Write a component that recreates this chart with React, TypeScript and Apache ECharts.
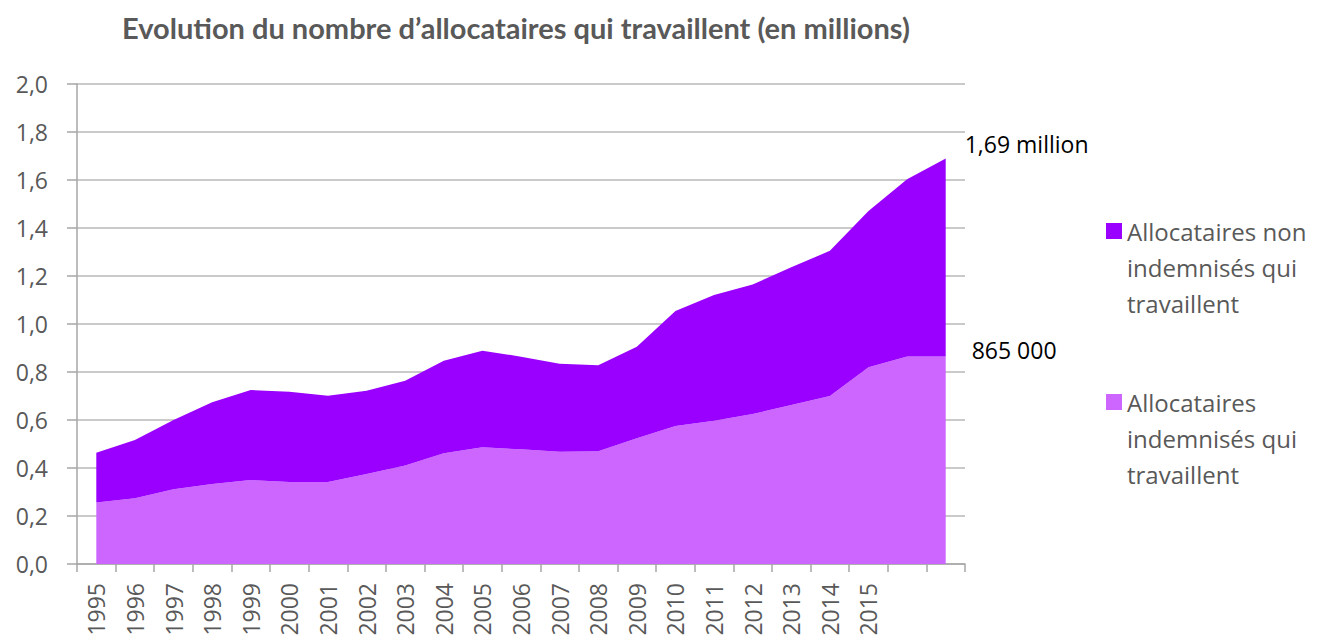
import React, { useEffect, useRef } from "react";
import * as echarts from "echarts";

const years = [
  "1995", "1996", "1997", "1998", "1999", "2000", "2001", "2002", "2003", "2004",
  "2005", "2006", "2007", "2008", "2009", "2010", "2011", "2012", "2013", "2014",
  "2015", "2016", "2017",
];
const xTickLabels = [
  "1995", "1996", "1997", "1998", "1999", "2000", "2001", "2002", "2003", "2004",
  "2005", "2006", "2007", "2008", "2009", "2010", "2011", "2012", "2013", "2014",
  "2015", "", "",
];
const indemnises = [
  0.256, 0.274, 0.311, 0.333, 0.35, 0.342, 0.342, 0.375, 0.41, 0.461,
  0.486, 0.478, 0.468, 0.47, 0.524, 0.575, 0.597, 0.625, 0.662, 0.7,
  0.82, 0.865, 0.865,
];
const nonIndemnises = [
  0.208, 0.243, 0.289, 0.341, 0.375, 0.376, 0.359, 0.347, 0.354, 0.386,
  0.403, 0.386, 0.366, 0.358, 0.381, 0.479, 0.524, 0.54, 0.574, 0.605,
  0.651, 0.738, 0.825,
];
const yTicks = [0, 0.2, 0.4, 0.6, 0.8, 1.0, 1.2, 1.4, 1.6, 1.8, 2.0];

const titleText = "Evolution du nombre d\u2019allocataires qui travaillent (en millions)";
const nameNon = "Allocataires non indemnisés qui travaillent";
const nameInd = "Allocataires indemnisés qui travaillent";
const legendLines: Record<string, string[]> = {
  [nameNon]: ["Allocataires non", "indemnisés qui", "travaillent"],
  [nameInd]: ["Allocataires", "indemnisés qui", "travaillent"],
};
const totalLabel = "1,69 million";
const indemLabel = "865 000";

const colorNon = "#9900FF";
const colorInd = "#CC66FF";
const gray = "#595959";
const font = "'Open Sans', sans-serif";
const titleFont = "Lato, 'Open Sans', sans-serif";

export default function App() {
  const ref = useRef<HTMLDivElement>(null);
  useEffect(() => {
    document.body.style.margin = "0";
    const chart = echarts.init(ref.current!, null, { renderer: "svg" });
    const legendBase = {
      orient: "vertical",
      left: 1101,
      itemWidth: 16,
      itemHeight: 16,
      icon: "rect",
      itemGap: 0,
      selectedMode: false,
      formatter: (n: string) => "\n\n" + legendLines[n].join("\n"),
      textStyle: { color: gray, fontSize: 24, lineHeight: 36, fontFamily: font },
    };
    chart.setOption({
      animation: false,
      title: {
        text: titleText,
        left: 117,
        top: 8,
        textStyle: { color: gray, fontSize: 29, fontWeight: "bold", fontFamily: titleFont },
      },
      legend: [
        { ...legendBase, data: [nameNon], top: 136 },
        { ...legendBase, data: [nameInd], top: 307 },
      ],
      grid: { left: 77, right: 352, top: 84, bottom: 78, containLabel: false },
      xAxis: {
        type: "category",
        data: years,
        boundaryGap: true,
        axisLine: { lineStyle: { color: "#A6A6A6", width: 1.5 } },
        axisTick: { show: true, interval: 0, length: 8, lineStyle: { color: "#A6A6A6", width: 1.5 } },
        axisLabel: {
          interval: 0,
          rotate: 90,
          margin: 19,
          color: gray,
          fontSize: 23,
          fontFamily: font,
          formatter: (_v: string, i: number) => xTickLabels[i],
        },
      },
      yAxis: {
        type: "value",
        min: yTicks[0],
        max: yTicks[yTicks.length - 1],
        interval: 0.2,
        axisLine: { show: true, lineStyle: { color: "#A6A6A6", width: 1.5 } },
        axisTick: { show: true, length: 10, lineStyle: { color: "#A6A6A6", width: 1.5 } },
        splitLine: { lineStyle: { color: "#B8B8B8", width: 1.5 } },
        axisLabel: {
          margin: 29,
          color: gray,
          fontSize: 23,
          fontFamily: font,
          formatter: (v: number) => v.toFixed(1).replace(".", ","),
        },
      },
      series: [
        {
          name: nameInd,
          type: "line",
          stack: "total",
          data: indemnises,
          showSymbol: false,
          symbol: "none",
          lineStyle: { width: 0 },
          itemStyle: { color: colorInd },
          areaStyle: { color: colorInd, opacity: 1 },
          endLabel: {
            show: true,
            formatter: () => indemLabel,
            distance: 26,
            offset: [0, -6],
            color: "#000",
            fontSize: 23,
            fontFamily: font,
          },
        },
        {
          name: nameNon,
          type: "line",
          stack: "total",
          data: nonIndemnises,
          showSymbol: false,
          symbol: "none",
          lineStyle: { width: 0 },
          itemStyle: { color: colorNon },
          areaStyle: { color: colorNon, opacity: 1 },
          endLabel: {
            show: true,
            formatter: () => totalLabel,
            distance: 19,
            offset: [0, -14],
            color: "#000",
            fontSize: 23,
            fontFamily: font,
          },
        },
      ],
    });
    return () => chart.dispose();
  }, []);
  return <div ref={ref} style={{ width: 1317, height: 642 }} />;
}
